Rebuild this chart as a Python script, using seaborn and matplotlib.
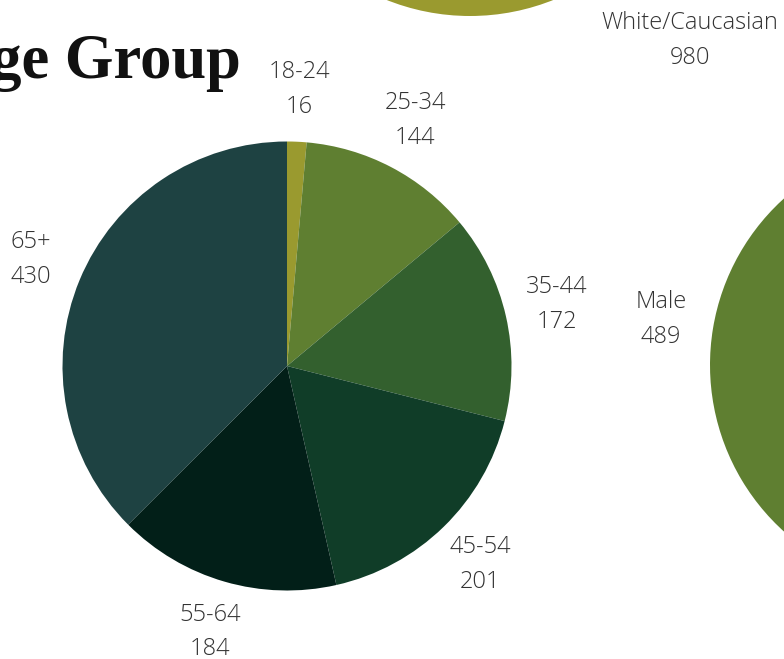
import matplotlib
matplotlib.use("Agg")
import matplotlib.pyplot as plt
import seaborn as sns

# ---- data ----
age_groups = ["18-24", "25-34", "35-44", "45-54", "55-64", "65+"]
age_counts = [16, 144, 172, 201, 184, 430]
age_colors = ["#9a9a2f", "#5f7f31", "#33602e", "#103d28", "#021f18", "#1e4242"]

gender_groups = ["Female", "Male"]
gender_counts = [603, 489]          # Female value estimated (slice not visible)
gender_colors = ["#3a5f2c", "#5f7f31"]

ethnicity_groups = ["White/Caucasian"]
ethnicity_counts = [980]
ethnicity_colors = ["#9a9a2f"]

title_text = "Age Group"

sns.set_theme(style="white")
plt.rcParams["font.family"] = ["Open Sans", "DejaVu Sans"]

W, H = 784, 659
fig = plt.figure(figsize=(W / 100, H / 100), dpi=100)
ax = fig.add_axes([0, 0, 1, 1])

R = 224.5
LD = 1.234
txt = dict(fontsize=17, color="#333333", linespacing=1.6, fontweight="light")

def draw_pie(values, names, colors, center, startangle, labeldistance, show=None):
    labels = []
    for i, (n, v) in enumerate(zip(names, values)):
        labels.append(f"{n}\n{v}" if (show is None or show[i]) else "")
    wedges, texts = ax.pie(values, labels=labels, colors=sns.color_palette(colors),
                           startangle=startangle, counterclock=False, radius=R,
                           center=center, labeldistance=labeldistance,
                           wedgeprops=dict(linewidth=0), textprops=txt, frame=True)
    for t in texts:
        t.set_ha("center")
        t.set_va("center")
        t.set_multialignment("center")
    return wedges, texts

# main age pie
draw_pie(age_counts, age_groups, age_colors, (287, H - 366), 90, LD)
# gender pie (right, partially visible)
draw_pie(gender_counts, gender_groups, gender_colors, (934.5, H - 365), 90, LD,
         show=[False, True])
# ethnicity pie (top, partially visible)
draw_pie(ethnicity_counts, ethnicity_groups, ethnicity_colors, (470, H + 208.5), 131.5, 1.479)

ax.text(241, H - 78, title_text, ha="right", va="baseline", fontsize=45,
        fontweight="bold", family=["Liberation Serif", "DejaVu Serif"], color="#111111")

ax.set_xlim(0, W)
ax.set_ylim(0, H)
ax.set_aspect("auto")
ax.axis("off")

fig.savefig("out.png", dpi=100, facecolor="white")
